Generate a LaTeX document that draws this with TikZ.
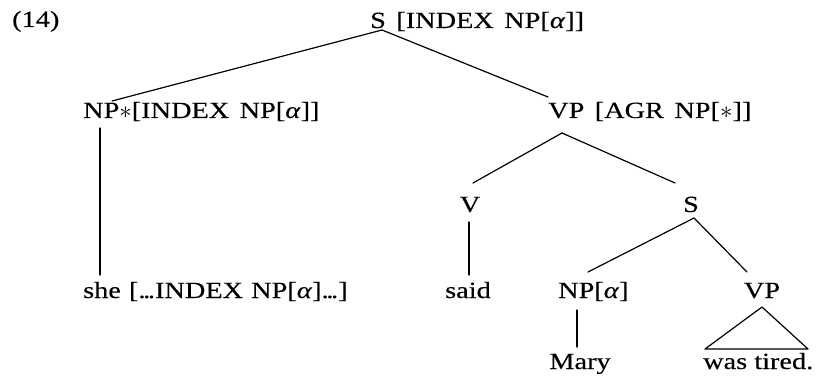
\documentclass[tikz,border=0pt]{standalone}
\usepackage{fontspec}
\setmainfont{Liberation Serif}[FakeStretch=1.22,FakeBold=0.3]
\usetikzlibrary{calc}
\newcommand{\myal}{\textit{α}}
\newcommand{\mysp}{\hspace{0.45em}}
\newcommand{\myast}{\raisebox{-0.04em}{$\ast$}}
\newcommand{\mydots}{.\kern-0.1em.\kern-0.1em.}
\begin{document}
\begin{tikzpicture}[x=1pt,y=-1pt,
  lbl/.style={inner sep=0pt,font=\fontsize{23.2}{28}\selectfont},
  edge/.style={line width=1.2pt,line cap=round}]
\useasboundingbox (0,0) rectangle (817,377);
% labels
\node[lbl,anchor=base west] (ex) at (12,27) {(14)};
\node[lbl,anchor=base west] (root) at (370,28) {S\mysp[INDEX\mysp NP[\myal]]};
\node[lbl,anchor=base west] (npstar) at (83,118) {NP\myast[INDEX\mysp NP[\myal]]};
\node[lbl,anchor=base west] (vp) at (548,118) {VP\mysp [AGR\mysp NP[\myast]]};
\node[lbl,anchor=base] (v) at (470,212) {V};
\node[lbl,anchor=base] (s2) at (691,212) {S};
\node[lbl,anchor=base west] (she) at (83,298) {she\hspace{0.35em}[\mydots INDEX\hspace{0.35em}NP[\myal]\mydots]};
\node[lbl,anchor=base] (said) at (468,298) {said};
\node[lbl,anchor=base west] (npa) at (558,298) {NP[\myal]};
\node[lbl,anchor=base] (vp2) at (762,298) {VP};
\node[lbl,anchor=base] (mary) at (580,369) {Mary};
\node[lbl,anchor=base west] (tired) at (703,369) {was tired.};
% connectors
\coordinate (rootb) at ($(root.base west)+(12,2)$);
\draw[edge] (rootb) -- ($(npstar.base west)+(29,-17)$);
\draw[edge] (rootb) -- ($(vp.base west)+(0,-21)$);
\coordinate (vpb) at ($(vp.base west)+(14,15)$);
\draw[edge] (vpb) -- ($(v.base)+(3,-29)$);
\draw[edge] (vpb) -- ($(s2.base)+(-16,-29)$);
\draw[edge] ($(npstar.base west)+(17,10)$) -- ($(she.base west)+(17,-23)$);
\draw[edge] ($(v.base)+(-1,10)$) -- ($(said.base)+(1,-23)$);
\coordinate (s2b) at ($(s2.base)+(3,6)$);
\draw[edge] (s2b) -- ($(npa.base west)+(30,-26)$);
\draw[edge] (s2b) -- ($(vp2.base)+(-15,-26)$);
\draw[edge] ($(npa.base west)+(19,12)$) -- ($(mary.base)+(-3,-22)$);
\draw[edge,line join=round] ($(vp2.base)+(0,9)$) -- ($(tired.base west)+(2,-20)$) -- ($(tired.base west)+(105,-20)$) -- cycle;
\end{tikzpicture}
\end{document}
